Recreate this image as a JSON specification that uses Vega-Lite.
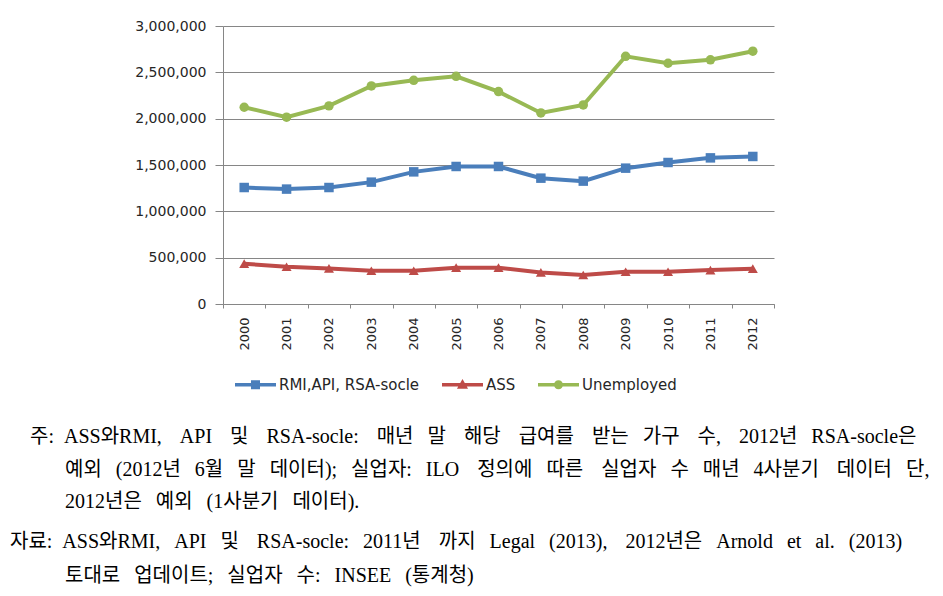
{
  "$schema": "https://vega.github.io/schema/vega-lite/v6.json",
  "width": 551,
  "height": 278,
  "autosize": "none",
  "padding": {"left": 223, "top": 26, "right": 169, "bottom": 292},
  "background": "white",
  "data": {
    "values": [
      {"year": "2000", "series": "RMI,API, RSA-socle", "value": 1257000},
      {"year": "2001", "series": "RMI,API, RSA-socle", "value": 1240000},
      {"year": "2002", "series": "RMI,API, RSA-socle", "value": 1257000},
      {"year": "2003", "series": "RMI,API, RSA-socle", "value": 1315000},
      {"year": "2004", "series": "RMI,API, RSA-socle", "value": 1426000},
      {"year": "2005", "series": "RMI,API, RSA-socle", "value": 1484000},
      {"year": "2006", "series": "RMI,API, RSA-socle", "value": 1484000},
      {"year": "2007", "series": "RMI,API, RSA-socle", "value": 1358000},
      {"year": "2008", "series": "RMI,API, RSA-socle", "value": 1326000},
      {"year": "2009", "series": "RMI,API, RSA-socle", "value": 1466000},
      {"year": "2010", "series": "RMI,API, RSA-socle", "value": 1527000},
      {"year": "2011", "series": "RMI,API, RSA-socle", "value": 1577000},
      {"year": "2012", "series": "RMI,API, RSA-socle", "value": 1592000},
      {"year": "2000", "series": "ASS", "value": 435000},
      {"year": "2001", "series": "ASS", "value": 402000},
      {"year": "2002", "series": "ASS", "value": 384000},
      {"year": "2003", "series": "ASS", "value": 359000},
      {"year": "2004", "series": "ASS", "value": 359000},
      {"year": "2005", "series": "ASS", "value": 392000},
      {"year": "2006", "series": "ASS", "value": 392000},
      {"year": "2007", "series": "ASS", "value": 341000},
      {"year": "2008", "series": "ASS", "value": 313000},
      {"year": "2009", "series": "ASS", "value": 348000},
      {"year": "2010", "series": "ASS", "value": 348000},
      {"year": "2011", "series": "ASS", "value": 366000},
      {"year": "2012", "series": "ASS", "value": 381000},
      {"year": "2000", "series": "Unemployed", "value": 2123000},
      {"year": "2001", "series": "Unemployed", "value": 2016000},
      {"year": "2002", "series": "Unemployed", "value": 2138000},
      {"year": "2003", "series": "Unemployed", "value": 2353000},
      {"year": "2004", "series": "Unemployed", "value": 2414000},
      {"year": "2005", "series": "Unemployed", "value": 2457000},
      {"year": "2006", "series": "Unemployed", "value": 2292000},
      {"year": "2007", "series": "Unemployed", "value": 2062000},
      {"year": "2008", "series": "Unemployed", "value": 2148000},
      {"year": "2009", "series": "Unemployed", "value": 2673000},
      {"year": "2010", "series": "Unemployed", "value": 2598000},
      {"year": "2011", "series": "Unemployed", "value": 2635000},
      {"year": "2012", "series": "Unemployed", "value": 2728000}
    ]
  },
  "title": {
    "text": [
      "\u200b\u2003주:\u2002ASS와RMI,\u2002\u2009\u2009API\u2002\u2009\u2009및\u2002\u2009\u2009RSA-socle:\u2002\u2009\u2009매년\u2002\u2009말\u2002\u2009\u2009해당\u2002\u2009\u2009급여를\u2002\u2009\u2009받는\u2002\u2009가구\u2002\u2009\u2009수,\u2002\u2009\u20092012년\u2002\u2009RSA-socle은",
      "\u200b\u2003\u2003\u2002\u2005예외\u2002\u2009(2012년\u2002\u20096월\u2002\u2009말\u2002\u2009데이터);\u2002\u2009실업자:\u2002\u2009ILO\u2002\u2009\u2009정의에\u2002\u2009따른\u2002\u2009\u2009실업자\u2002\u2009수\u2002\u2009매년\u2002\u20094사분기\u2002\u2009\u2009데이터\u2002\u2009단,",
      "\u200b\u2003\u2003\u2002\u20052012년은\u2002\u2009예외\u2002\u2009(1사분기\u2002\u2009데이터)."
    ],
    "subtitle": [
      "\u200b자료:\u2002ASS와RMI,\u2002\u2009API\u2002\u2009및\u2002\u2009\u2009RSA-socle:\u2002\u20092011년\u2002\u2009\u2009까지\u2002\u2009Legal\u2002\u2009(2013),\u2002\u2009\u20092012년은\u2002\u2009Arnold\u2002\u2009et\u2002\u2009al.\u2002\u2009(2013)",
      "\u200b\u2003\u2003\u2002\u2005토대로\u2002\u2009업데이트;\u2002\u2009실업자\u2002\u2009수:\u2002\u2009INSEE\u2002\u2009(통계청)"
    ],
    "orient": "bottom",
    "anchor": "start",
    "frame": "group",
    "dx": -213,
    "offset": 34,
    "baseline": "top",
    "font": "Liberation Serif, Noto Sans CJK KR",
    "fontSize": 20,
    "fontWeight": "normal",
    "color": "#000000",
    "lineHeight": 32.5,
    "subtitleFont": "Liberation Serif, Noto Sans CJK KR",
    "subtitleFontSize": 20,
    "subtitleFontWeight": "normal",
    "subtitleColor": "#000000",
    "subtitleLineHeight": 34,
    "subtitlePadding": 20
  },
  "encoding": {
    "x": {
      "field": "year",
      "type": "ordinal",
      "scale": {"type": "band", "paddingInner": 0, "paddingOuter": 0},
      "axis": {
        "title": null,
        "labelAngle": -90,
        "labelFont": "DejaVu Sans",
        "labelFontSize": 13,
        "labelColor": "#262626",
        "labelPadding": 9,
        "tickBand": "extent",
        "tickSize": 4,
        "tickColor": "#868686",
        "domainColor": "#868686",
        "grid": false
      }
    },
    "y": {
      "field": "value",
      "type": "quantitative",
      "scale": {"domain": [0, 3000000], "nice": false},
      "axis": {
        "title": null,
        "values": [0, 500000, 1000000, 1500000, 2000000, 2500000, 3000000],
        "format": ",d",
        "labelFont": "DejaVu Sans",
        "labelFontSize": 14,
        "labelColor": "#262626",
        "labelPadding": 9,
        "tickSize": 8,
        "tickColor": "#868686",
        "domainColor": "#868686",
        "grid": true,
        "gridColor": "#868686",
        "gridWidth": 1
      }
    },
    "color": {
      "field": "series",
      "type": "nominal",
      "sort": ["RMI,API, RSA-socle", "ASS", "Unemployed"],
      "scale": {
        "domain": ["RMI,API, RSA-socle", "ASS", "Unemployed"],
        "range": ["#4a7ebb", "#be4b48", "#98b954"]
      },
      "legend": {
        "orient": "none",
        "legendX": 12,
        "legendY": 338,
        "direction": "horizontal",
        "title": null,
        "padding": 0,
        "symbolSize": 1681,
        "symbolStrokeWidth": 0,
        "symbolOpacity": 1,
        "labelFont": "DejaVu Sans",
        "labelFontSize": 15,
        "labelColor": "#262626",
        "labelOffset": 3,
        "columnPadding": 22
      }
    }
  },
  "layer": [
    {
      "mark": {"type": "point", "filled": true, "size": 0, "opacity": 1},
      "encoding": {
        "shape": {
          "field": "series",
          "type": "nominal",
          "scale": {
            "domain": ["RMI,API, RSA-socle", "ASS", "Unemployed"],
            "range": [
              "M-1,-0.085H1V0.085H-1Z M-0.22,-0.22H0.22V0.22H-0.22Z",
              "M-1,-0.085H1V0.085H-1Z M0,-0.28L0.27,0.2H-0.27Z",
              "M-1,-0.085H1V0.085H-1Z M0.22,0A0.22,0.22 0 1,1 -0.22,0A0.22,0.22 0 1,1 0.22,0Z"
            ]
          },
          "legend": null
        }
      }
    },
    {
      "mark": {"type": "line", "strokeWidth": 4}
    },
    {
      "transform": [{"filter": "datum.series === 'RMI,API, RSA-socle'"}],
      "mark": {"type": "point", "filled": true, "opacity": 1, "size": 90, "shape": "square"}
    },
    {
      "transform": [{"filter": "datum.series === 'ASS'"}],
      "mark": {"type": "point", "filled": true, "opacity": 1, "size": 100, "shape": "triangle-up"}
    },
    {
      "transform": [{"filter": "datum.series === 'Unemployed'"}],
      "mark": {"type": "point", "filled": true, "opacity": 1, "size": 90, "shape": "circle"}
    }
  ],
  "config": {
    "view": {"stroke": null}
  }
}
